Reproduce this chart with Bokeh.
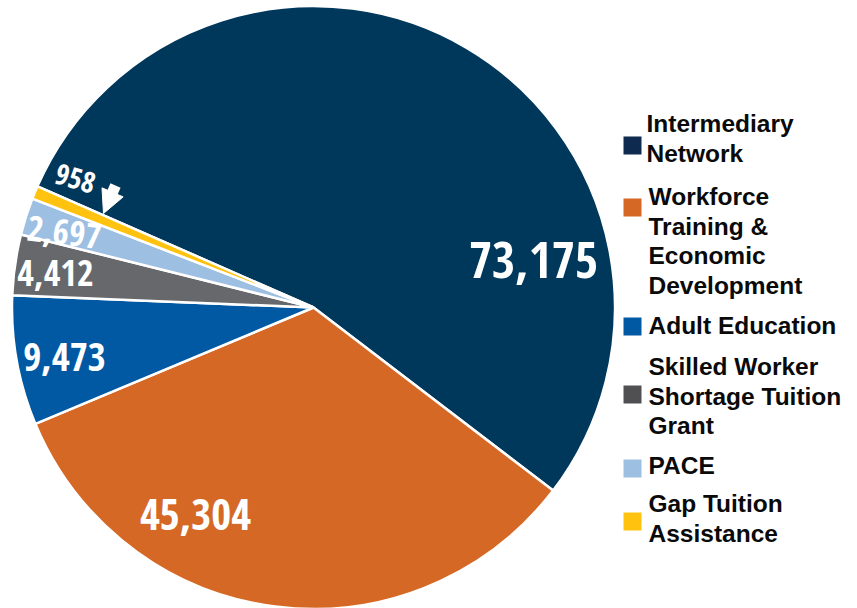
import numpy as np
from bokeh.plotting import figure
from bokeh.models import ColumnDataSource, Range1d, Arrow, NormalHead
from bokeh.core.properties import value
from bokeh.embed import file_html
from bokeh.resources import INLINE

# ---- data ----
categories = ["Intermediary\nNetwork",
              "Workforce\nTraining &\nEconomic\nDevelopment",
              "Adult Education",
              "Skilled Worker\nShortage Tuition\nGrant",
              "PACE",
              "Gap Tuition\nAssistance"]
values = [73175, 45304, 9473, 4412, 2697, 958]
value_labels = ["73,175", "45,304", "9,473", "4,412", "2,697", "958"]
colors = ["#00385c", "#d66826", "#0059a2", "#67686b", "#9cbfe2", "#ffc20e"]
legend_colors = ["#0e2b4f", "#d66826", "#0059a2", "#505052", "#9cbfe2", "#ffc20e"]

# ---- layout (page pixel coords -> figure coords) ----
W, H = 857, 608
def fx(px): return px
def fy(py): return H - py

cx, cy, R = fx(313), fy(307), 301.5
start_deg = 156.3  # pie begins here and runs clockwise

fr = np.array(values, dtype=float) / np.sum(values)
spans = fr * 2 * np.pi
cum_before = np.concatenate([[0], np.cumsum(spans)[:-1]])
hi = np.deg2rad(start_deg) - cum_before
lo = hi - spans

p = figure(width=W, height=H, output_backend="svg", toolbar_location=None,
           x_range=Range1d(0, W), y_range=Range1d(0, H), min_border=0)
p.axis.visible = False
p.grid.visible = False
p.outline_line_color = None
p.background_fill_color = "white"

src = ColumnDataSource(dict(start=lo, end=hi, color=colors))
p.wedge(x=cx, y=cy, radius=R, start_angle="start", end_angle="end",
        fill_color="color", line_color="white", line_width=2.5, source=src)

# value labels inside slices (baseline positions, corrected by 0.42 em)
lab_x = [533, 195, 64, 55, 64, 75]
lab_base = [280, 532, 373, 288, 246, 190]
lab_px = [50, 43, 39, 36, 35, 29]
lab_angle = [0, 0, 0, 0, -0.12, -0.28]
lsrc = ColumnDataSource(dict(x=[fx(v) for v in lab_x],
                             y=[fy(b - 0.42 * s) for b, s in zip(lab_base, lab_px)],
                             t=value_labels, s=[f"{s}px" for s in lab_px], a=lab_angle))
p.text(x="x", y="y", text="t", angle="a", text_font_size="s", source=lsrc,
       text_font=value("Open Sans Condensed"), text_font_style="bold",
       text_color="white", text_align="center", text_baseline="alphabetic")

# arrow pointing to the small slice
p.segment(x0=[fx(115)], y0=[fy(185)], x1=[fx(108)], y1=[fy(201)],
          line_color="white", line_width=11, line_cap="butt")
p.add_layout(Arrow(x_start=fx(109), y_start=fy(199), x_end=fx(103), y_end=fy(213),
                   line_alpha=0, line_width=0,
                   end=NormalHead(size=23, fill_color="white", line_color="white")))

# custom legend
sq_y = [145, 207, 326, 394, 468, 521]
first_base = [133, 206, 335, 376, 475, 513]
line_gap = 29.5
text_x = [646, 648, 648, 648, 648, 648]
leg_px = 24.5
p.rect(x=[fx(632)] * 6, y=[fy(v) for v in sq_y], width=18, height=18,
       fill_color=legend_colors, line_color=None)
tx, ty, tt = [], [], []
for i, lab in enumerate(categories):
    for j, line in enumerate(lab.split("\n")):
        tx.append(fx(text_x[i]))
        ty.append(fy(first_base[i] + j * line_gap - 0.4 * leg_px))
        tt.append(line)
p.text(x=tx, y=ty, text=tt, text_font=value("Liberation Sans"),
       text_font_style="bold", text_font_size=f"{leg_px}px", text_color="#0a0a0a",
       text_align="left", text_baseline="alphabetic")

open("out.html", "w").write(file_html(p, INLINE))
